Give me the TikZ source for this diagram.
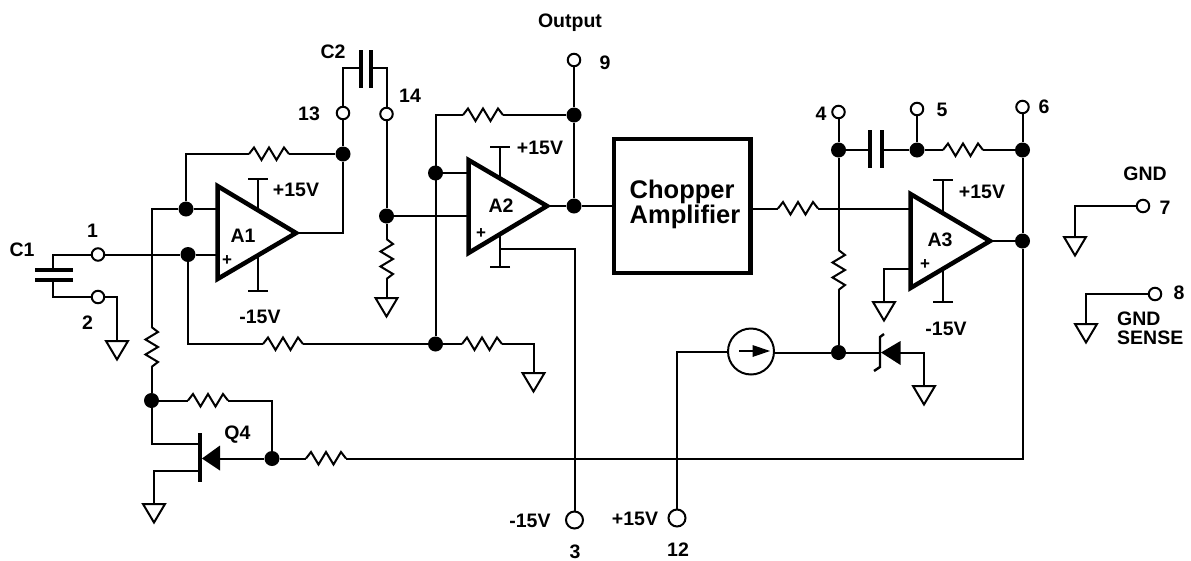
\documentclass[tikz,border=0pt]{standalone}
\usepackage{fontspec}
\setmainfont{Liberation Sans}
\usetikzlibrary{arrows.meta}
\tikzset{
  wire/.style={line width=2pt,line join=miter,black},
  dot/.style={circle,fill=black,draw=none,inner sep=0pt,minimum size=15pt},
  term/.style={circle,draw=black,fill=white,line width=2pt,inner sep=0pt,minimum size=12.5pt},
  bigterm/.style={term,minimum size=17pt},
  lab/.style={font=\fontsize{19.5}{19.5}\selectfont\bfseries,inner sep=0pt,text height=14pt,text depth=0pt},
  plus/.style={font=\fontsize{17}{17}\selectfont\bfseries,inner sep=0pt,text height=12pt,text depth=0pt},
  plate/.style={line width=4.5pt,line cap=butt},
  ampbody/.style={line width=4.5pt,line join=miter,miter limit=10},
  sup/.style={wire,-{Bar[width=20pt,line width=2.4pt]}},
  res/.pic={
    \coordinate (-a) at (-20,0);
    \coordinate (-b) at (20,0);
    \draw[wire] (-20,0) -- (-15,-6.5) -- (-7.5,6) -- (0,-6.5) -- (7.5,6) -- (15,-6.5) -- (20,0);
  },
  gnd/.pic={
    \draw[wire] (-11,0) -- (11,0) -- (0,18.5) -- cycle;
  },
}
\begin{document}
\begin{tikzpicture}[x=1pt,y=-1pt]
\useasboundingbox (0,0) rectangle (1191,560);

% ----- amplifiers
\coordinate (A1nw) at (217.5,186); \coordinate (A1sw) at (217.5,279); \coordinate (A1o) at (296,233);
\coordinate (A2nw) at (468.5,160); \coordinate (A2sw) at (468.5,253); \coordinate (A2o) at (547,206);
\coordinate (A3nw) at (910.5,194); \coordinate (A3sw) at (910.5,288); \coordinate (A3o) at (990,241);
\draw[ampbody] (A1nw) -- (A1o) -- (A1sw) -- cycle;
\draw[ampbody] (A2nw) -- (A2o) -- (A2sw) -- cycle;
\draw[ampbody] (A3nw) -- (A3o) -- (A3sw) -- cycle;
\node[lab] (lA1) at (243,235) {A1};
\node[lab] (lA2) at (501,205) {A2};
\node[lab] (lA3) at (940,239) {A3};
\node[plus] (pA1) at (227,259) {+};
\node[plus] (pA2) at (481,232) {+};
\node[plus] (pA3) at (925,263) {+};

% ----- supply pins
\coordinate (A1te) at (258,209); \coordinate (A1t) at (258,178);
\coordinate (A1be) at (258,257); \coordinate (A1b) at (258,292);
\coordinate (A2te) at (500,179); \coordinate (A2t) at (500,146);
\coordinate (A2be) at (500,233); \coordinate (A2b) at (500,268);
\coordinate (A3te) at (943,215); \coordinate (A3t) at (943,179);
\coordinate (A3be) at (943,267); \coordinate (A3b) at (943,303);
\foreach \p/\q in {A1te/A1t,A1be/A1b,A2te/A2t,A2be/A2b,A3te/A3t,A3be/A3b}
  \draw[sup] (\p) -- (\q);

% ----- chopper
\node[draw=black,line width=4.5pt,minimum width=136.5pt,minimum height=134pt,inner sep=0pt] (chop) at (682.3,206) {};
\node[font=\fontsize{25.5}{25}\selectfont\bfseries,align=left,inner sep=0pt] (chopt) at (685,204.5) {Chopper\\Amplifier};

% ----- terminals
\node[term] (t1) at (98,254.5) {};
\node[term] (t2) at (98,297) {};
\node[term] (t13) at (343,113) {};
\node[term] (t14) at (386.5,114) {};
\node[term] (t9) at (574,60) {};
\node[term] (t4) at (838.5,112) {};
\node[term] (t5) at (917,109) {};
\node[term] (t6) at (1022.5,107) {};
\node[term] (t7) at (1143,206) {};
\node[term] (t8) at (1155,294) {};
\node[bigterm] (t3) at (574.5,520) {};
\node[bigterm] (t12) at (677,518) {};

% ----- junctions
\node[dot] (dA1m) at (186,209) {};
\node[dot] (dA1p) at (188,254.5) {};
\node[dot] (dA1fb) at (343,154) {};
\node[dot] (d14) at (386.5,216) {};
\node[dot] (dA2fb) at (435.5,173) {};
\node[dot] (dLow) at (435.5,344) {};
\node[dot] (d9) at (574,115) {};
\node[dot] (dA2o) at (574,206) {};
\node[dot] (d4) at (838.5,150) {};
\node[dot] (d5) at (917,150) {};
\node[dot] (d6) at (1022.5,150) {};
\node[dot] (dA3o) at (1022.5,241) {};
\node[dot] (dZ) at (838.5,352.5) {};
\node[dot] (dQ1) at (151.5,400.5) {};
\node[dot] (dQ2) at (272,458.5) {};

% ----- resistors
\pic (r1) at (269,154) {res};
\pic (r2) at (283,344) {res};
\pic (r3) at (151.5,347) [rotate=-90] {res};
\pic (r4) at (208,400.5) {res};
\pic (r5) at (326,458.5) {res};
\pic (r6) at (386.5,259) [rotate=-90] {res};
\pic (r7) at (483,115) {res};
\pic (r8) at (482,344) {res};
\pic (r9) at (798,208.5) {res};
\pic (r10) at (963,150) {res};
\pic (r11) at (838.5,270) [rotate=-90] {res};

% ----- grounds
\coordinate (g2) at (117,341); \pic at (g2) {gnd};
\coordinate (gQ) at (154,504); \pic at (gQ) {gnd};
\coordinate (g14) at (386.5,298); \pic at (g14) {gnd};
\coordinate (gL) at (533.5,373); \pic at (gL) {gnd};
\coordinate (gA3) at (884,302); \pic at (gA3) {gnd};
\coordinate (gZ) at (924,386); \pic at (gZ) {gnd};
\coordinate (g7) at (1075,237); \pic at (g7) {gnd};
\coordinate (g8) at (1086,324); \pic at (g8) {gnd};

% ----- C1
\coordinate (c1a) at (53,270); \coordinate (c1b) at (53,280);
\draw[plate] (35,270) -- (73,270);
\draw[plate] (35,280) -- (73,280);
\draw[wire] (t1) -- (53,254.5) -- (c1a);
\draw[wire] (c1b) -- (53,297) -- (t2);
\draw[wire] (t2) -| (g2);

% ----- A1 wiring
\draw[wire] (t1) -- (dA1p);
\draw[wire] (dA1p) -- (dA1p -| A1nw);
\draw[wire] (dA1m) -- (dA1m -| A1nw);
\draw[wire] (dA1m) -- (dA1m |- r1-a) -- (r1-a);
\draw[wire] (r1-b) -- (dA1fb);
\draw[wire] (dA1m) -- (r3-a |- dA1m) -- (r3-a);
\draw[wire] (r3-b) -- (dQ1);
\draw[wire] (dA1fb) |- (A1o);
\draw[wire] (t13) -- (dA1fb);
\draw[wire] (dA1p) |- (r2-a);
\draw[wire] (r2-b) -- (dLow);

% ----- C2
\draw[plate] (361,50) -- (361,88);
\draw[plate] (371,50) -- (371,88);
\coordinate (c2a) at (361,68); \coordinate (c2b) at (371,68);
\draw[wire] (t13) |- (c2a);
\draw[wire] (t14) |- (c2b);

% ----- A2 wiring
\draw[wire] (t14) -- (d14);
\draw[wire] (d14) -- (d14 -| A2nw);
\draw[wire] (d14) -- (r6-a);
\draw[wire] (r6-b) -- (g14);
\draw[wire] (dLow) |- (r7-a);
\draw[wire] (r7-b) -- (d9);
\draw[wire] (dA2fb) -- (dA2fb -| A2nw);
\draw[wire] (dLow) -- (r8-a);
\draw[wire] (r8-b) -| (gL);
\draw[wire] (t9) -- (d9);
\draw[wire] (d9) -- (dA2o);
\draw[wire] (A2o) -- (dA2o);
\draw[wire] (dA2o) -- (dA2o -| chop.west);
\coordinate (A2s) at (500,249);
\draw[wire] (A2s) -| (t3);

% ----- A3 wiring
\draw[wire] (r9-a -| chop.east) -- (r9-a);
\draw[wire] (r9-b) -- (r9-b -| A3nw);
\draw[wire] (t4) -- (d4);
\draw[wire] (d4) -- (r11-a);
\draw[wire] (r11-b) -- (dZ);
\draw[plate] (870,130) -- (870,168);
\draw[plate] (882,130) -- (882,168);
\coordinate (c3a) at (870,150); \coordinate (c3b) at (882,150);
\draw[wire] (d4) -- (c3a);
\draw[wire] (c3b) -- (d5);
\draw[wire] (t5) -- (d5);
\draw[wire] (d5) -- (r10-a);
\draw[wire] (r10-b) -- (d6);
\draw[wire] (t6) -- (d6);
\draw[wire] (d6) -- (dA3o);
\draw[wire] (A3o) -- (dA3o);
\coordinate (A3p) at (910.5,269);
\draw[wire] (A3p) -| (gA3);

% ----- Q4
\draw[plate] (200,433) -- (200,482);
\coordinate (qd) at (200,444); \coordinate (qs) at (200,471);
\draw[wire] (dQ1) |- (qd);
\draw[wire] (qs) -| (gQ);
\draw[wire] (dQ1) -- (r4-a);
\draw[wire] (r4-b) -| (dQ2);
\fill (202,458.5) -- (220,445.5) -- (220,470.5) -- cycle;
\coordinate (qg) at (220,458.5);
\draw[wire] (dQ2) -- (qg);
\draw[wire] (dQ2) -- (r5-a);
\draw[wire] (r5-b) -| (dA3o);

% ----- current source
\node[circle,draw=black,line width=2pt,inner sep=0pt,minimum size=46pt] (isrc) at (751,351.5) {};
\draw[wire] (739,351) -- (755,351);
\fill (770,351) -- (752.5,345) -- (752.5,357) -- cycle;
\draw[wire] (t12) |- (isrc.west);
\draw[wire] (isrc.east |- dZ) -- (dZ);

% ----- zener
\draw[wire] (dZ) -- (880,352.5);
\draw[wire,line width=2.4pt] (884,334) -- (880,337) -- (880,367) -- (874,371);
\fill (881,352.5) -- (900.5,341) -- (900.5,365) -- cycle;
\coordinate (zk) at (900,352.5);
\draw[wire] (zk) -| (gZ);

% ----- grounds 7 and 8
\draw[wire] (t7) -| (g7);
\draw[wire] (t8) -| (g8);

% ----- labels
\node[lab] (lC1) at (22,249) {C1};
\node[lab] (l1) at (92.5,230) {1};
\node[lab] (l2) at (87.5,322) {2};
\node[lab] (lp1) at (296,189) {+15V};
\node[lab] (lm1) at (260,316) {-15V};
\node[lab] (lQ4) at (237.5,432) {Q4};
\node[lab] (lC2) at (333,51) {C2};
\node[lab] (l13) at (309,113) {13};
\node[lab] (l14) at (410,95) {14};
\node[lab] (lOut) at (570,20) {Output};
\node[lab] (l9) at (605,62) {9};
\node[lab] (lp2) at (540,147) {+15V};
\node[lab] (l4) at (821,113) {4};
\node[lab] (l5) at (942,109) {5};
\node[lab] (l6) at (1044,106) {6};
\node[lab] (lp3) at (982,191) {+15V};
\node[lab] (lm3) at (946,328) {-15V};
\node[lab] (lGND) at (1145,173) {GND};
\node[lab] (l7) at (1165,207) {7};
\node[lab] (l8) at (1179,292) {8};
\node[lab,anchor=west] (lGS) at (1117,318) {GND};
\node[lab,anchor=west] (lSENSE) at (1117,337) {SENSE};
\node[lab] (lm2) at (530,520) {-15V};
\node[lab] (lp12) at (635,518) {+15V};
\node[lab] (l3) at (575,551) {3};
\node[lab] (l12) at (678,549) {12};
\end{tikzpicture}
\end{document}
